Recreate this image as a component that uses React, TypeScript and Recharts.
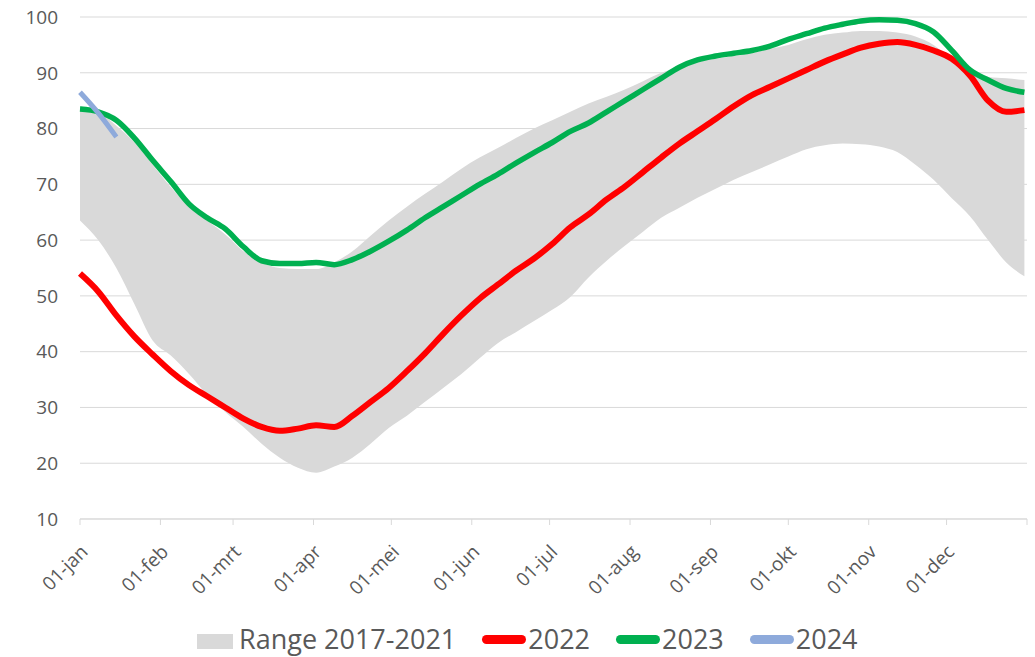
import React from "react";
import {
  Area,
  CartesianGrid,
  ComposedChart,
  Line,
  XAxis,
  YAxis,
} from "recharts";

// day of year (0 = 01-jan), sampled weekly
const days = [
  0, 7, 14, 21, 28, 35, 42, 49, 56, 63, 70, 77, 84, 91, 98, 105, 112, 119, 126,
  133, 140, 147, 154, 161, 168, 175, 182, 189, 196, 203, 210, 217, 224, 231,
  238, 245, 252, 259, 266, 273, 280, 287, 294, 301, 308, 315, 322, 329, 336,
  343, 350, 357, 364,
];

const rangeLow = [
  63.5, 60, 55, 48.5, 42, 39.3, 36, 32.3, 29.2, 26.5, 23.5, 21, 19.2, 18.3,
  19.4, 21, 23.5, 26.3, 28.5, 31, 33.5, 36, 38.8, 41.5, 43.5, 45.5, 47.5, 49.8,
  53.3, 56.3, 59, 61.5, 64, 65.8, 67.6, 69.2, 70.8, 72.2, 73.6, 75, 76.3, 77,
  77.3, 77.2, 76.8, 75.8, 73.5, 70.8, 67.5, 64.3, 60, 56, 53.5,
];

const rangeHigh = [
  84, 83, 80.5, 77.5, 73.5, 69.5, 66, 63.5, 61, 58, 56, 55, 54.8, 54.8, 56, 58,
  60.8, 63.5, 66, 68.3, 70.5, 72.8, 74.8, 76.5, 78.3, 80, 81.5, 83, 84.5, 85.7,
  87, 88.5, 90, 91, 92, 92.5, 93, 93.5, 94.3, 95, 96, 96.8, 97.2, 97.5, 97.5,
  97.2, 96.5, 95, 92.5, 90.5, 89.3, 89, 88.7,
];

const y2022 = [
  54, 50.8, 46.5, 42.7, 39.5, 36.5, 34, 32, 30, 28, 26.5, 25.8, 26.2, 26.8,
  26.5, 28.5, 31, 33.5, 36.5, 39.7, 43.2, 46.5, 49.5, 52, 54.5, 56.7, 59.3,
  62.3, 64.6, 67.3, 69.6, 72.2, 74.8, 77.3, 79.5, 81.7, 84, 86, 87.5, 89, 90.5,
  92, 93.3, 94.5, 95.2, 95.5, 95, 94, 92.5, 89.5, 85, 83, 83.3,
];

const y2023 = [
  83.5, 83, 81.5, 78.3, 74.3, 70.5, 66.5, 64, 62, 58.8, 56.3, 55.8, 55.8, 56,
  55.6, 56.5, 58, 59.8, 61.8, 64, 66, 68, 70, 71.8, 73.8, 75.7, 77.5, 79.5, 81,
  83, 85, 87, 89, 91, 92.3, 93, 93.5, 94, 94.8, 96, 97, 98, 98.7, 99.3, 99.5,
  99.4, 98.8, 97.3, 94, 90.5, 88.7, 87.2, 86.5,
];

const y2024 = [86.5, 82.8, 78.5];

const monthTicks = [0, 31, 59, 90, 120, 151, 181, 212, 243, 273, 304, 334, 365];
const monthLabels = [
  "01-jan", "01-feb", "01-mrt", "01-apr", "01-mei", "01-jun",
  "01-jul", "01-aug", "01-sep", "01-okt", "01-nov", "01-dec", "",
];
const yTicks = [10, 20, 30, 40, 50, 60, 70, 80, 90, 100];

const data = days.map((day, i) => ({
  day,
  range: [rangeLow[i], rangeHigh[i]],
  y2022: y2022[i],
  y2023: y2023[i],
  y2024: i < y2024.length ? y2024[i] : null,
}));

const FONT = "'Open Sans', sans-serif";
const TEXT = "#595959";
const GRID = "#d9d9d9";

function MonthTick(props: any) {
  const { x, y, payload } = props;
  const label = monthLabels[monthTicks.indexOf(payload.value)] ?? "";
  const tx = x + 9;
  const ty = y + 26;
  return (
    <text
      x={tx}
      y={ty}
      transform={`rotate(-45, ${tx}, ${ty})`}
      textAnchor="end"
      fill={TEXT}
      fontSize={19}
      fontFamily={FONT}
    >
      {label}
    </text>
  );
}

const legendItems = [
  { label: "Range 2017-2021", color: "#d9d9d9", box: true },
  { label: "2022", color: "#ff0000", box: false },
  { label: "2023", color: "#00b050", box: false },
  { label: "2024", color: "#8eaadb", box: false },
];

export default function App() {
  return (
    <div
      style={{
        position: "fixed",
        left: 0,
        top: 0,
        width: 1035,
        height: 657,
        background: "#fff",
        overflow: "hidden",
      }}
    >
      <ComposedChart
        width={1035}
        height={657}
        data={data}
        margin={{ top: 17, right: 8, left: 0, bottom: 0 }}
      >
        <CartesianGrid vertical={false} stroke={GRID} strokeWidth={1} />
        <XAxis
          dataKey="day"
          type="number"
          domain={[0, 365]}
          ticks={monthTicks}
          interval={0}
          height={138}
          axisLine={{ stroke: GRID }}
          tickLine={{ stroke: GRID }}
          tickSize={6}
          tickMargin={2}
          tick={<MonthTick />}
        />
        <YAxis
          type="number"
          domain={[10, 100]}
          ticks={yTicks}
          width={80}
          axisLine={false}
          tickLine={false}
          tickSize={6}
          tickMargin={16}
          tick={{ fill: TEXT, fontSize: 19, fontFamily: FONT }}
        />
        <Area
          type="monotone"
          dataKey="range"
          fill="#d9d9d9"
          fillOpacity={1}
          stroke="none"
          isAnimationActive={false}
        />
        <Line
          type="monotone"
          dataKey="y2022"
          stroke="#ff0000"
          strokeWidth={6}
          dot={false}
          isAnimationActive={false}
        />
        <Line
          type="monotone"
          dataKey="y2023"
          stroke="#00b050"
          strokeWidth={5.5}
          dot={false}
          isAnimationActive={false}
        />
        <Line
          type="monotone"
          dataKey="y2024"
          stroke="#8eaadb"
          strokeWidth={5}
          dot={false}
          connectNulls={false}
          isAnimationActive={false}
        />
      </ComposedChart>

      <div
        style={{
          position: "absolute",
          left: 197,
          top: 624,
          display: "flex",
          alignItems: "center",
          fontFamily: FONT,
          fontSize: 27,
          lineHeight: "30px",
          color: TEXT,
          whiteSpace: "nowrap",
        }}
      >
        {legendItems.map((item, i) => (
          <div
            key={item.label}
            style={{
              display: "flex",
              alignItems: "center",
              marginLeft: i === 0 ? 0 : 26,
            }}
          >
            {item.box ? (
              <div
                style={{
                  width: 36,
                  height: 15,
                  background: item.color,
                  marginRight: 6,
                  marginTop: 4,
                }}
              />
            ) : (
              <div
                style={{
                  width: 44,
                  height: 9,
                  borderRadius: 5,
                  background: item.color,
                  marginRight: 2,
                }}
              />
            )}
            <span>{item.label}</span>
          </div>
        ))}
      </div>
    </div>
  );
}
